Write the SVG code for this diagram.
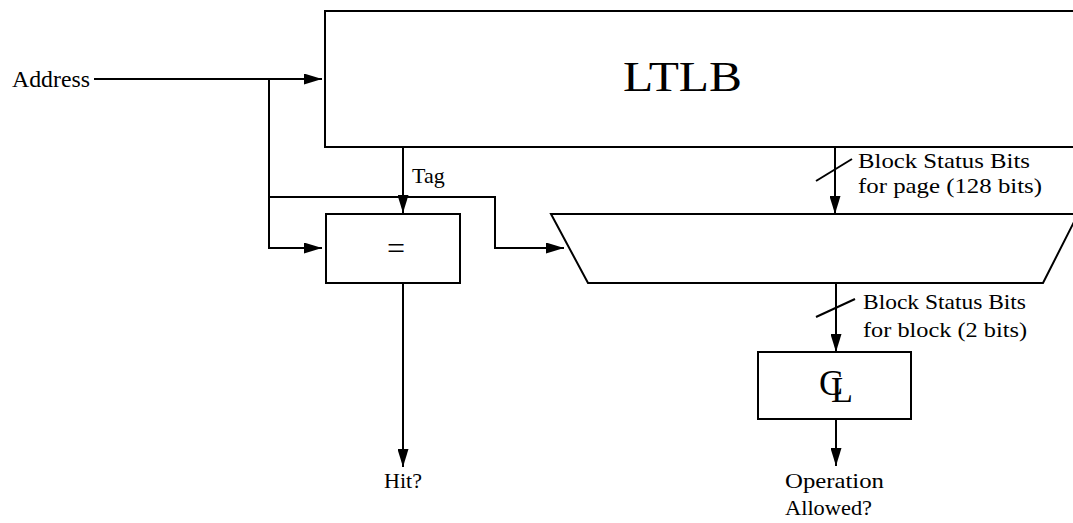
<svg xmlns="http://www.w3.org/2000/svg" width="1073" height="523" viewBox="0 0 1073 523">
<style>
.box{fill:none;stroke:#000;stroke-width:2}
.wire{fill:none;stroke:#000;stroke-width:2}
.t{font-family:"Liberation Serif","Times New Roman",serif;fill:#000}
</style>
<defs>
<marker id="ah" markerUnits="userSpaceOnUse" markerWidth="18" markerHeight="11" refX="18" refY="5.5" orient="auto">
<path d="M0,0 L18,5.5 L0,11 z" fill="#000"/>
</marker>
</defs>
<rect width="1073" height="523" fill="#fff"/>
<g id="address-label"><text class="t" x="12" y="87" font-size="23" textLength="78" lengthAdjust="spacingAndGlyphs">Address</text></g>
<g id="ltlb"><rect class="box" x="325" y="11" width="760" height="136"/><text class="t" x="623" y="91" font-size="42" textLength="119" lengthAdjust="spacingAndGlyphs">LTLB</text></g>
<g id="compare"><rect class="box" x="326" y="214" width="134" height="69"/><text class="t" x="396" y="259" font-size="32" text-anchor="middle">=</text></g>
<g id="mux"><polygon class="box" points="551,214 1078,214 1043,283 588,283"/></g>
<g id="cl"><rect class="box" x="758" y="352" width="153" height="67"/><text class="t" x="819" y="395" font-size="36">C<tspan dx="-12" dy="7">L</tspan></text></g>
<g id="labels">
<text class="t" x="412" y="183" font-size="22">Tag</text>
<text class="t" x="403" y="488" font-size="22" text-anchor="middle">Hit?</text>
<text class="t" x="858" y="168" font-size="22" textLength="172" lengthAdjust="spacingAndGlyphs">Block Status Bits</text>
<text class="t" x="858" y="193" font-size="22" textLength="184" lengthAdjust="spacingAndGlyphs">for page (128 bits)</text>
<text class="t" x="863" y="309" font-size="22" textLength="163" lengthAdjust="spacingAndGlyphs">Block Status Bits</text>
<text class="t" x="863" y="337" font-size="22" textLength="164" lengthAdjust="spacingAndGlyphs">for block (2 bits)</text>
<text class="t" x="785" y="488" font-size="22" textLength="99" lengthAdjust="spacingAndGlyphs">Operation</text>
<text class="t" x="785" y="515" font-size="22" textLength="87" lengthAdjust="spacingAndGlyphs">Allowed?</text>
</g>
<g id="connectors">
<path class="wire" d="M94,79 H322" marker-end="url(#ah)"/>
<path class="wire" d="M269,79 V248 H322" marker-end="url(#ah)"/>
<path class="wire" d="M269,197 H495 V248 H564" marker-end="url(#ah)"/>
<path class="wire" d="M403,147 V213" marker-end="url(#ah)"/>
<path class="wire" d="M403,283 V467" marker-end="url(#ah)"/>
<path class="wire" d="M835,147 V214" marker-end="url(#ah)"/>
<path class="wire" d="M836,283 V352" marker-end="url(#ah)"/>
<path class="wire" d="M836,419 V466" marker-end="url(#ah)"/>
<path class="wire" d="M816,181 L852,159"/>
<path class="wire" d="M816,317 L855,299"/>
</g>
</svg>
